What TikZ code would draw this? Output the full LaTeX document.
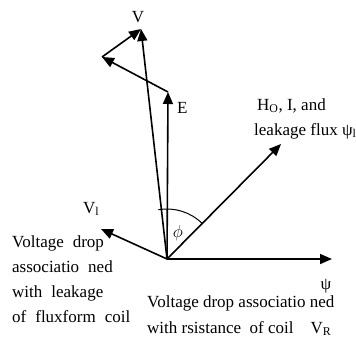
\documentclass[tikz,border=0pt]{standalone}
\usepackage{fontspec}
\setmainfont{Liberation Serif}
\usepackage{tikz}
\usetikzlibrary{positioning, arrows.meta}

\begin{document}
\begin{tikzpicture}[
  x=1pt, y=1pt,
  font=\fontsize{17}{25}\selectfont,
  vec/.style={line width=1.6pt, -{Triangle[length=12pt,width=10pt]}},
  lab/.style={anchor=base west, inner sep=0pt},
]
  \useasboundingbox (0,0) rectangle (356,-341);

  % Phasor end points (1 unit = 1 px of the figure, y downward negative)
  \coordinate (O)    at (167,-259);
  \coordinate (Psi)  at (332,-259);
  \coordinate (Flux) at (281,-144);
  \coordinate (Etip) at (168,-92);
  \coordinate (Jtip) at (102,-57);
  \coordinate (Vtip) at (141,-29);
  \coordinate (Vl)   at (101,-229);

  % Phasors
  \draw[vec] (O) -- (Psi);
  \draw[vec] (O) -- (Flux);
  \draw[vec] (O) -- (Etip);
  \draw[vec] (O) -- (Vl);
  \draw[vec] (Etip) -- (Jtip);
  \draw[vec] (Jtip) -- (Vtip);
  \draw[vec] (O) -- (Vtip);

  % Angle between E and the flux
  \draw[line width=1pt] (O) ++(100:50) arc[start angle=100, end angle=45.5, radius=50];
  \node (phi) at (178,-233) {$\phi$};

  % Phasor labels
  \node[anchor=base, inner sep=0pt] (lV) at (138,-22) {V};
  \node[lab] (lE) at (177,-113) {E};
  \node[lab] (lVl) at (83,-213) {V\textsubscript{l}};
  \node[anchor=base, inner sep=0pt] (lPsi) at (326,-289) {ψ};
  \node[lab] (lH) at (257,-110) {H\textsubscript{O}, I, and};
  \node[lab] (lLk) at (254,-135) {leakage flux ψ\textsubscript{l}};

  % Left note
  \foreach \y/\t in {247/{Voltage\hspace{9pt}drop}, 272/{associatio\hspace{9pt}ned},
                     297/{with\hspace{9pt}leakage}, 322/{of\hspace{9pt}fluxform\hspace{9pt}coil}}
    \node[lab] at (12,-\y) {\t};

  % Bottom note
  \node[lab] (lR1) at (147,-307) {Voltage drop associatio ned};
  \node[lab] (lR2) at (147,-333) {with rsistance\ \ of coil\quad V\textsubscript{R}};
\end{tikzpicture}
\end{document}
